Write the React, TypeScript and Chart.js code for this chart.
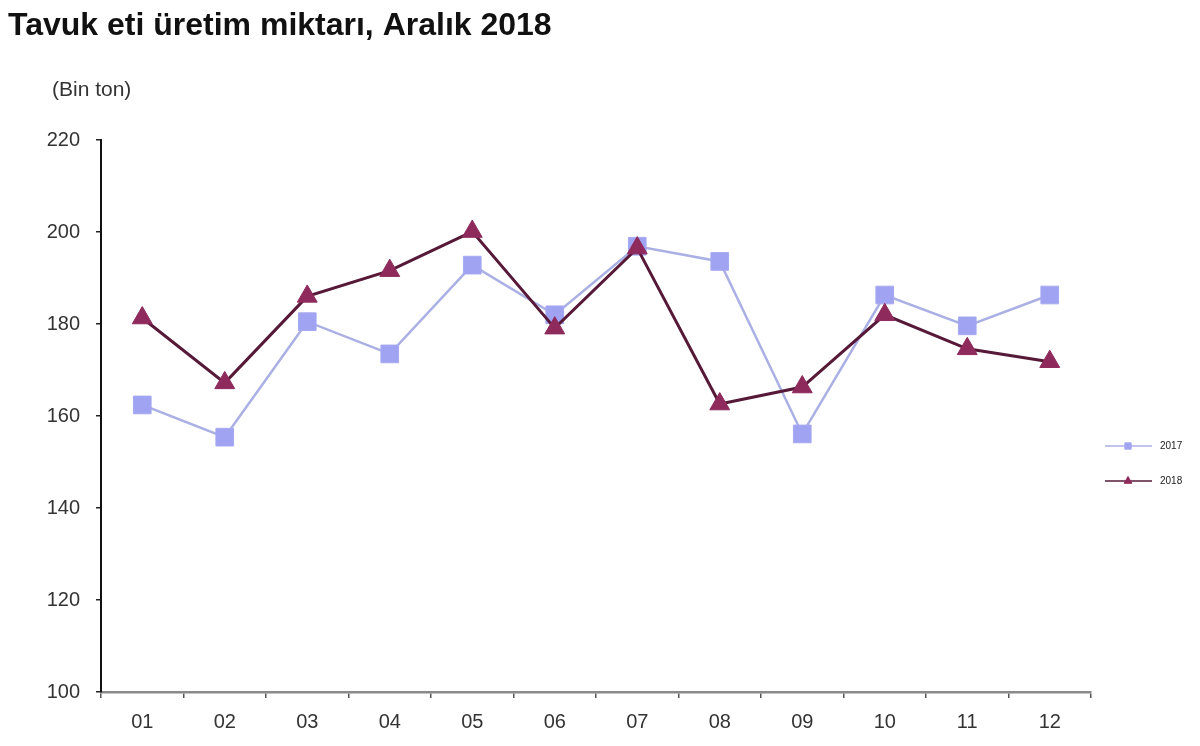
import { useEffect, useRef } from "react";
import { Chart, registerables } from "chart.js";
import type { Plugin } from "chart.js";
import { drawPoint } from "chart.js/helpers";

Chart.register(...registerables);

const months = ["01", "02", "03", "04", "05", "06", "07", "08", "09", "10", "11", "12"];
const values2017 = [162.4, 155.4, 180.5, 173.5, 192.8, 182, 196.9, 193.6, 156.1, 186.3, 179.6, 186.3];
const values2018 = [181.3, 167.2, 186, 191.6, 200.1, 179.1, 196.5, 162.6, 166.3, 182, 174.6, 171.8];
const seriesNames = ["2017", "2018"];
const yMin = 100;
const yMax = 220;
const yStep = 20;

const titleText = "Tavuk eti üretim miktarı, Aralık 2018";
const unitText = "(Bin ton)";

const FONT = "'Liberation Sans', Arial, sans-serif";

// title, unit label and the small legend on the right
const decorations: Plugin<"line"> = {
    id: "decorations",
    afterDraw(chart) {
        const ctx = chart.ctx;
        ctx.save();
        ctx.fillStyle = "#111";
        ctx.textBaseline = "alphabetic";
        ctx.textAlign = "left";
        ctx.font = `bold 32px ${FONT}`;
        ctx.fillText(titleText, 8, 35);

        ctx.fillStyle = "#333";
        ctx.font = `21px ${FONT}`;
        ctx.fillText(unitText, 52, 96);

        chart.data.datasets.forEach((ds: any, i) => {
            const y = 446 + i * 35;
            ctx.strokeStyle = ds.borderColor;
            ctx.lineWidth = 1.5;
            ctx.beginPath();
            ctx.moveTo(1105, y);
            ctx.lineTo(1152, y);
            ctx.stroke();
            ctx.fillStyle = ds.pointBackgroundColor;
            ctx.strokeStyle = ds.pointBorderColor;
            ctx.lineWidth = 1;
            drawPoint(ctx, { pointStyle: ds.pointStyle, radius: 4.5, borderWidth: 1, rotation: 0 }, 1128, y);
            ctx.fillStyle = "#222";
            ctx.font = `10px ${FONT}`;
            ctx.textBaseline = "middle";
            ctx.fillText(ds.label, 1160, y);
        });
        ctx.restore();
    },
};

const App = () => {
    const chartRef = useRef<HTMLCanvasElement>(null);
    const chartInstanceRef = useRef<Chart | null>(null);

    useEffect(() => {
        document.body.style.margin = "0";
        if (!chartRef.current) return;

        if (chartInstanceRef.current) {
            chartInstanceRef.current.destroy();
        }

        chartInstanceRef.current = new Chart(chartRef.current, {
            type: "line",
            data: {
                labels: months,
                datasets: [
                    {
                        label: seriesNames[0],
                        data: values2017,
                        borderColor: "#aab0e4",
                        borderWidth: 2.5,
                        pointStyle: "rect",
                        pointRadius: 12.5,
                        pointBackgroundColor: "#9fa3f2",
                        pointBorderColor: "#a6aaf0",
                        pointBorderWidth: 1,
                        tension: 0,
                        order: 2,
                    },
                    {
                        label: seriesNames[1],
                        data: values2018,
                        borderColor: "#561a38",
                        borderWidth: 3,
                        pointStyle: "triangle",
                        pointRadius: 11.5,
                        pointBackgroundColor: "#8e2a5c",
                        pointBorderColor: "#8e2a5c",
                        pointBorderWidth: 1,
                        tension: 0,
                        order: 1,
                    },
                ],
            },
            options: {
                animation: false,
                responsive: true,
                maintainAspectRatio: false,
                layout: {
                    padding: { top: 140, right: 109, left: 0, bottom: 0 },
                },
                plugins: {
                    legend: { display: false },
                    title: { display: false },
                    tooltip: { enabled: false },
                },
                scales: {
                    x: {
                        offset: true,
                        grid: {
                            offset: true,
                            drawOnChartArea: false,
                            drawTicks: true,
                            tickLength: 6,
                            color: "#555",
                            lineWidth: 1.5,
                        },
                        border: { color: "#8a8a8a", width: 2.5 },
                        ticks: {
                            color: "#333",
                            padding: 12,
                            font: { family: FONT, size: 20 },
                        },
                        afterFit: (scale) => {
                            scale.height = 54;
                        },
                    },
                    y: {
                        min: yMin,
                        max: yMax,
                        grid: {
                            drawOnChartArea: false,
                            drawTicks: true,
                            tickLength: 5,
                            color: "#222",
                            lineWidth: 1.5,
                        },
                        border: { color: "#111", width: 2 },
                        ticks: {
                            stepSize: yStep,
                            color: "#333",
                            padding: 16,
                            font: { family: FONT, size: 20 },
                        },
                        afterFit: (scale) => {
                            scale.width = 101;
                        },
                    },
                },
            },
            plugins: [decorations],
        });

        return () => {
            chartInstanceRef.current?.destroy();
            chartInstanceRef.current = null;
        };
    }, []);

    return (
        <div style={{ position: "relative", width: "1200px", height: "746px", background: "#fff" }}>
            <canvas ref={chartRef} />
        </div>
    );
};

export default App;
